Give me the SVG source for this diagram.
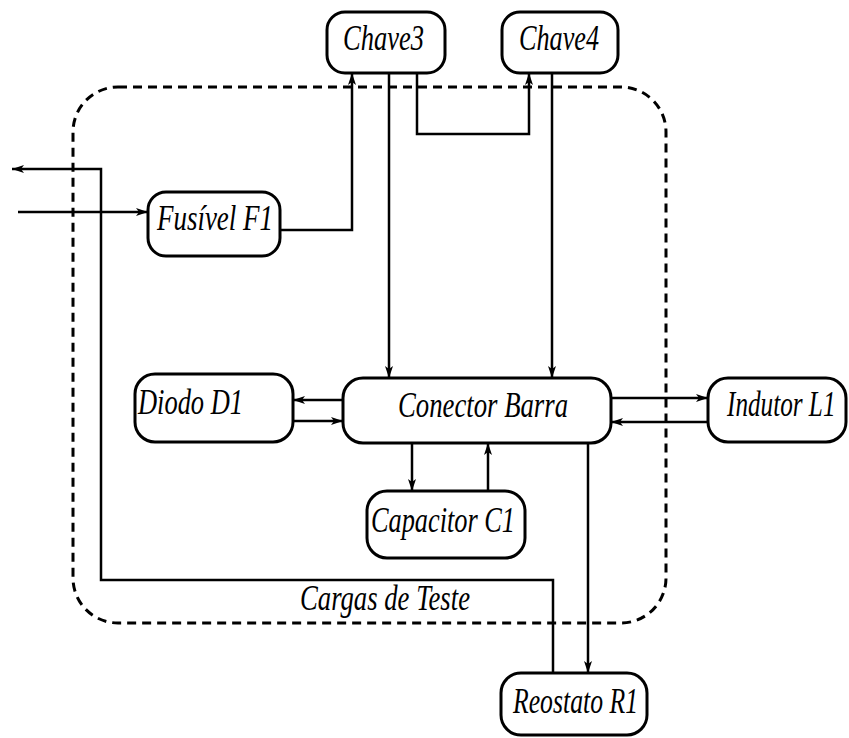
<svg xmlns="http://www.w3.org/2000/svg" width="849" height="738" viewBox="0 0 849 738">
  <style>
    .node rect { fill: #ffffff; stroke: #000000; stroke-width: 3; }
    .node text { font-family: "Liberation Serif", "Times New Roman", serif; font-style: italic; font-size: 36px; fill: #000000; }
    .wire { fill: none; stroke: #000000; stroke-width: 2.5; }
    .arrow { marker-end: url(#head); }
    .group-border { fill: none; stroke: #000000; stroke-width: 3; stroke-dasharray: 9 6; }
    .group-label { font-family: "Liberation Serif", "Times New Roman", serif; font-style: italic; font-size: 36px; fill: #000000; }
  </style>
  <defs>
    <marker id="head" viewBox="0 0 12 8" refX="12" refY="4" markerWidth="12" markerHeight="8" markerUnits="userSpaceOnUse" orient="auto">
      <path d="M0,0 L12,4 L0,8 L3,4 Z" fill="#000000"/>
    </marker>
  </defs>
  <rect width="849" height="738" fill="#ffffff"/>

  <!-- test-load enclosure -->
  <g id="cargas-de-teste">
    <rect class="group-border" x="73" y="87" width="593" height="536" rx="45" ry="45"/>
    <text class="group-label" x="300" y="610" textLength="170" lengthAdjust="spacingAndGlyphs">Cargas de Teste</text>
  </g>

  <!-- connectors -->
  <g id="connectors">
    <path class="wire arrow" d="M18,212 H148"/>
    <path class="wire arrow" d="M553,673 V580 H101 V169 H12"/>
    <path class="wire arrow" d="M280,230 H352 V73"/>
    <path class="wire arrow" d="M389,73 V378"/>
    <path class="wire arrow" d="M417,73 V134 H529 V73"/>
    <path class="wire arrow" d="M552,73 V378"/>
    <path class="wire arrow" d="M343,400 H293"/>
    <path class="wire arrow" d="M293,421 H343"/>
    <path class="wire arrow" d="M611,398 H708"/>
    <path class="wire arrow" d="M708,422 H611"/>
    <path class="wire arrow" d="M412,443 V491"/>
    <path class="wire arrow" d="M488,491 V443"/>
    <path class="wire arrow" d="M588,443 V673"/>
  </g>

  <!-- components -->
  <g id="chave3" class="node">
    <rect x="327" y="12" width="118" height="61" rx="18" ry="18"/>
    <text x="343" y="50" textLength="81" lengthAdjust="spacingAndGlyphs">Chave3</text>
  </g>
  <g id="chave4" class="node">
    <rect x="502" y="12" width="116" height="61" rx="18" ry="18"/>
    <text x="519" y="50" textLength="80" lengthAdjust="spacingAndGlyphs">Chave4</text>
  </g>
  <g id="fusivel-f1" class="node">
    <rect x="148" y="192" width="132" height="64" rx="18" ry="18"/>
    <text x="157" y="230" textLength="116" lengthAdjust="spacingAndGlyphs">Fusível F1</text>
  </g>
  <g id="diodo-d1" class="node">
    <rect x="135" y="374" width="158" height="68" rx="20" ry="20"/>
    <text x="138" y="414" textLength="105" lengthAdjust="spacingAndGlyphs">Diodo D1</text>
  </g>
  <g id="conector-barra" class="node">
    <rect x="343" y="378" width="268" height="65" rx="20" ry="20"/>
    <text x="398" y="417" textLength="170" lengthAdjust="spacingAndGlyphs">Conector Barra</text>
  </g>
  <g id="indutor-l1" class="node">
    <rect x="708" y="378" width="138" height="64" rx="20" ry="20"/>
    <!-- condensed horizontally so the label sits inside the box -->
    <text transform="translate(727 416) scale(0.7 1)" x="0" y="0">Indutor L1</text>
  </g>
  <g id="capacitor-c1" class="node">
    <rect x="367" y="491" width="158" height="67" rx="20" ry="20"/>
    <text x="371" y="532" textLength="144" lengthAdjust="spacingAndGlyphs">Capacitor C1</text>
  </g>
  <g id="reostato-r1" class="node">
    <rect x="501" y="673" width="146" height="62" rx="20" ry="20"/>
    <text x="513" y="713" textLength="125" lengthAdjust="spacingAndGlyphs">Reostato R1</text>
  </g>
</svg>
